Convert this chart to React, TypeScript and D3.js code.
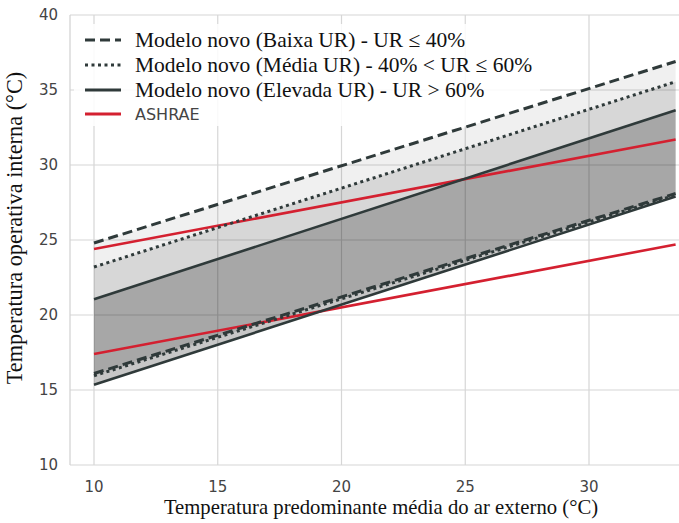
import React from "react"
import { scaleLinear, line, area } from "d3"

// outdoor temperature range of the models
const xs = [10, 33.5]

const baixaUpper = [24.8, 36.9]
const baixaLower = [16.1, 28.1]
const mediaUpper = [23.2, 35.55]
const mediaLower = [15.95, 28.0]
const elevadaUpper = [21.05, 33.65]
const elevadaLower = [15.35, 27.9]
const ashraeUpper = [24.4, 31.7]
const ashraeLower = [17.4, 24.7]

const xTicks = [10, 15, 20, 25, 30]
const yTicks = [10, 15, 20, 25, 30, 35, 40]

const legendLabels = [
  "Modelo novo (Baixa UR) - UR ≤ 40%",
  "Modelo novo (Média UR) - 40% < UR ≤ 60%",
  "Modelo novo (Elevada UR) - UR > 60%",
  "ASHRAE",
]

const dark = "#2f3a3a"
const red = "#d42030"

export default function App() {
  const width = 679
  const height = 523

  const x = scaleLinear().domain([10, 30]).range([94, 589])
  const y = scaleLinear().domain([10, 40]).range([465, 15])
  const left = 70
  const right = 679

  const mkLine = (vals) =>
    line()
      .x((d, i) => x(xs[i]))
      .y((d) => y(d))(vals)

  const mkArea = (lo, hi) =>
    area()
      .x((d, i) => x(xs[i]))
      .y0((d, i) => y(lo[i]))
      .y1((d, i) => y(hi[i]))(lo)

  const styles = [
    { stroke: dark, dash: "10,5" },
    { stroke: dark, dash: "3,3.5" },
    { stroke: dark, dash: null },
    { stroke: red, dash: null },
  ]

  return (
    <svg
      width={width}
      height={height}
      style={{ position: "absolute", left: 0, top: 0, background: "#fff" }}
    >
      {/* grid */}
      {xTicks.map((t) => (
        <line key={"gx" + t} x1={x(t)} x2={x(t)} y1={y(40)} y2={y(10)} stroke="#d6d6d6" strokeWidth={1.2} />
      ))}
      {yTicks.map((t) => (
        <line key={"gy" + t} x1={left} x2={right} y1={y(t)} y2={y(t)} stroke="#d6d6d6" strokeWidth={1.2} />
      ))}
      <line x1={left} x2={left} y1={y(40)} y2={y(10)} stroke="#d0d0d0" strokeWidth={1.2} />

      {/* legend background sits under the data */}
      <rect x={74} y={24} width={466} height={102} fill="#fff" fillOpacity={0.85} />

      {/* bands */}
      <path d={mkArea(baixaLower, baixaUpper)} fill="#000" fillOpacity={0.06} />
      <path d={mkArea(mediaLower, mediaUpper)} fill="#000" fillOpacity={0.1} />
      <path d={mkArea(elevadaLower, elevadaUpper)} fill="#000" fillOpacity={0.22} />

      {/* lines */}
      <path d={mkLine(ashraeUpper)} fill="none" stroke={red} strokeWidth={2.6} />
      <path d={mkLine(ashraeLower)} fill="none" stroke={red} strokeWidth={2.6} />
      <path d={mkLine(elevadaUpper)} fill="none" stroke={dark} strokeWidth={2.6} />
      <path d={mkLine(elevadaLower)} fill="none" stroke={dark} strokeWidth={2.6} />
      <path d={mkLine(mediaUpper)} fill="none" stroke={dark} strokeWidth={3} strokeDasharray="3,3.5" />
      <path d={mkLine(mediaLower)} fill="none" stroke={dark} strokeWidth={3} strokeDasharray="3,3.5" />
      <path d={mkLine(baixaUpper)} fill="none" stroke={dark} strokeWidth={3} strokeDasharray="10,5" />
      <path d={mkLine(baixaLower)} fill="none" stroke={dark} strokeWidth={3} strokeDasharray="10,5" />

      {/* tick labels */}
      {xTicks.map((t) => (
        <text key={"tx" + t} x={x(t)} y={492} textAnchor="middle" fontFamily="DejaVu Sans" fontSize={15} fill="#444">
          {t}
        </text>
      ))}
      {yTicks.map((t) => (
        <text key={"ty" + t} x={58} y={y(t) + 5} textAnchor="end" fontFamily="DejaVu Sans" fontSize={15} fill="#444">
          {t}
        </text>
      ))}

      {/* axis titles */}
      <text x={381} y={514} textAnchor="middle" fontFamily="Liberation Serif" fontSize={20.7} fill="#111">
        Temperatura predominante média do ar externo (°C)
      </text>
      <text
        transform={"translate(22," + 228 + ") rotate(-90)"}
        textAnchor="middle"
        fontFamily="Liberation Serif"
        fontSize={22.3}
        fill="#111"
      >
        Temperatura operativa interna (°C)
      </text>

      {/* legend */}
      {legendLabels.map((lab, i) => {
        const ly = [40, 65, 90, 114][i]
        const s = styles[i]
        return (
          <g key={lab}>
            <line
              x1={85}
              x2={121}
              y1={ly}
              y2={ly}
              stroke={s.stroke}
              strokeWidth={i == 1 ? 3 : 2.8}
              strokeDasharray={s.dash || undefined}
            />
            {i < 3 ? (
              <text x={135} y={ly + 6.5} fontFamily="Liberation Serif" fontSize={21.5} fill="#111">
                {lab}
              </text>
            ) : (
              <text x={135} y={ly + 6} fontFamily="DejaVu Sans" fontSize={16} fill="#444">
                {lab}
              </text>
            )}
          </g>
        )
      })}
    </svg>
  )
}
